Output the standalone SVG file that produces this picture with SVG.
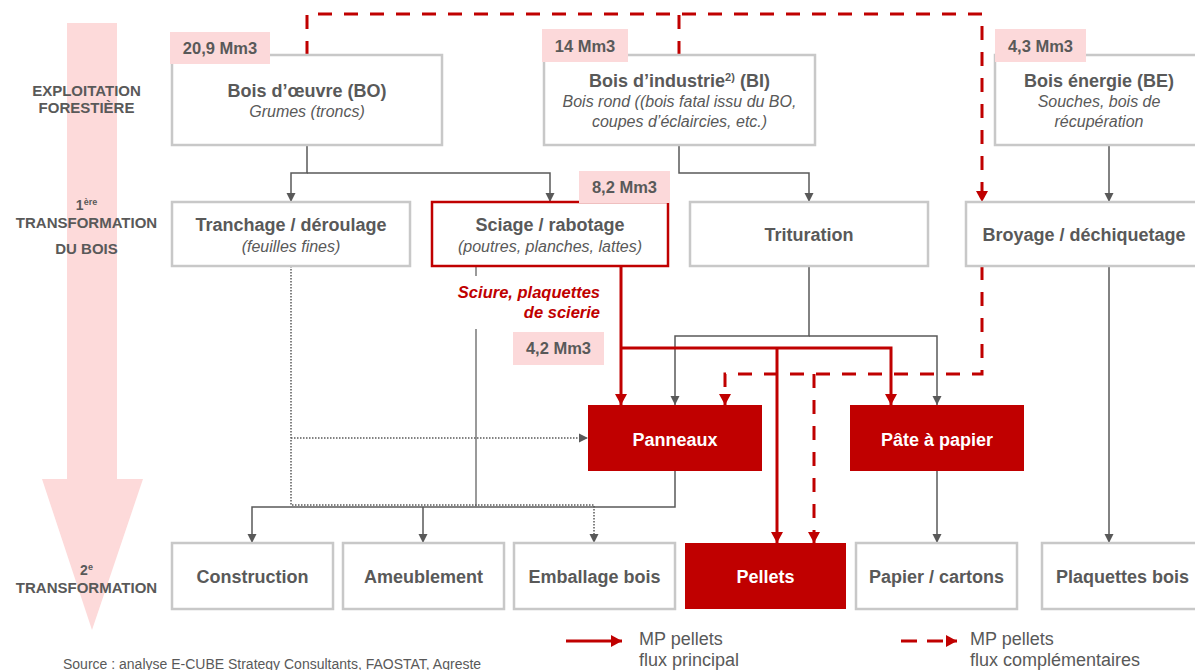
<svg xmlns="http://www.w3.org/2000/svg" width="1195" height="670" viewBox="0 0 1195 670">
<style>
text{font-family:"Liberation Sans",Arial,sans-serif;fill:#595959}
.t{font-size:18px;font-weight:bold;text-anchor:middle}
.s{font-size:16px;font-style:italic;text-anchor:middle}
.w{fill:#ffffff}
.row{font-size:15px;font-weight:bold;text-anchor:middle}
.lab{font-size:16.5px;font-weight:bold;text-anchor:middle}
.box{fill:#ffffff;stroke:#c8c8c8;stroke-width:2.5}
.red{fill:#c00000}
.pink{fill:#fcd9da}
.g{fill:none;stroke:#595959;stroke-width:1.5}
.gl{fill:none;stroke:#7a7a7a;stroke-width:1.5}
.dot{fill:none;stroke:#595959;stroke-width:1.5;stroke-dasharray:1.5 1.5}
.r{fill:none;stroke:#c00000;stroke-width:3}
.rd{fill:none;stroke:#c00000;stroke-width:3;stroke-dasharray:14 12}
.leg{font-size:18px}
</style>
<defs>
<marker id="ag" markerUnits="userSpaceOnUse" markerWidth="10" markerHeight="10" refX="9" refY="5" orient="auto">
<path d="M0,0.5 L9,5 L0,9.5 z" fill="#595959"/>
</marker>
<marker id="ar" markerUnits="userSpaceOnUse" markerWidth="12" markerHeight="12" refX="11" refY="6" orient="auto">
<path d="M0,0 L11,6 L0,12 z" fill="#c00000"/>
</marker>
</defs>

<g id="big-arrow">
<path d="M67,23 H117 V479 H143 L92,630 L42,479 H67 Z" fill="#fddada"/>
</g>

<g id="row-labels">
<text class="row" x="86.5" y="96">EXPLOITATION</text>
<text class="row" x="86.5" y="113">FORESTIÈRE</text>
<text class="row" x="86.5" y="210"><tspan font-size="14">1</tspan><tspan font-size="9" dy="-5">ère</tspan></text>
<text class="row" x="86.5" y="228">TRANSFORMATION</text>
<text class="row" x="86.5" y="254">DU BOIS</text>
<text class="row" x="86.5" y="575"><tspan font-size="14">2</tspan><tspan font-size="9" dy="-5">e</tspan></text>
<text class="row" x="86.5" y="593">TRANSFORMATION</text>
</g>

<g id="connectors">
<path class="g" d="M307,145 V173 H291 V202" marker-end="url(#ag)"/>
<path class="g" d="M307,173 H550 V202" marker-end="url(#ag)"/>
<path class="g" d="M679,145 V173 H809 V202" marker-end="url(#ag)"/>
<path class="g" d="M1109,145 V202" marker-end="url(#ag)"/>
<path class="g" d="M809,266 V336 H675 V405" marker-end="url(#ag)"/>
<path class="g" d="M809,336 H937 V405" marker-end="url(#ag)"/>
<path class="g" d="M1109,266 V543" marker-end="url(#ag)"/>
<path class="g" d="M937,471 V543" marker-end="url(#ag)"/>
<path class="g" d="M675,471 V507 H252 V543" marker-end="url(#ag)"/>
<path class="g" d="M423,507 V543" marker-end="url(#ag)"/>
<path class="gl" d="M476,266 V276 M476,329 V507"/>
<path class="dot" d="M291,266 V505 H594 V543" marker-end="url(#ag)"/>
<path class="dot" d="M291,438 H588" marker-end="url(#ag)"/>
<path class="r" d="M621,266 V405" marker-end="url(#ar)"/>
<path class="r" d="M621,348 H891 V405" marker-end="url(#ar)"/>
<path class="r" d="M777,348 V543" marker-end="url(#ar)"/>
<path class="rd" d="M307,55 V14 H982 V202" marker-end="url(#ar)"/>
<path class="rd" d="M679,55 V14"/>
<path class="rd" d="M982,266 V374 H725 V405" marker-end="url(#ar)"/>
<path class="rd" d="M814,374 V543" marker-end="url(#ar)"/>
</g>

<g id="bois-oeuvre">
<rect class="box" x="172" y="55" width="270" height="90"/>
<text class="t" x="307" y="97">Bois d’œuvre (BO)</text>
<text class="s" x="307" y="117">Grumes (troncs)</text>
<rect class="pink" x="170" y="32" width="100" height="32"/>
<text class="lab" x="220" y="54">20,9 Mm3</text>
</g>

<g id="bois-industrie">
<rect class="box" x="544" y="55" width="271" height="90"/>
<text class="t" x="679.5" y="87">Bois d’industrie<tspan font-size="11" dy="-6">2)</tspan><tspan dy="6"> (BI)</tspan></text>
<text class="s" x="679.5" y="107">Bois rond ((bois fatal issu du BO,</text>
<text class="s" x="679.5" y="127">coupes d’éclaircies, etc.)</text>
<rect class="pink" x="542" y="29" width="86" height="33"/>
<text class="lab" x="585" y="52">14 Mm3</text>
</g>

<g id="bois-energie">
<rect class="box" x="995" y="55" width="210" height="90"/>
<text class="t" x="1099" y="87">Bois énergie (BE)</text>
<text class="s" x="1099" y="107">Souches, bois de</text>
<text class="s" x="1099" y="127">récupération</text>
<rect class="pink" x="995" y="29" width="91" height="33"/>
<text class="lab" x="1040.5" y="52">4,3 Mm3</text>
</g>

<g id="tranchage">
<rect class="box" x="172" y="202" width="238" height="64"/>
<text class="t" x="291" y="231">Tranchage / déroulage</text>
<text class="s" x="291" y="252">(feuilles fines)</text>
</g>

<g id="sciage">
<rect x="432" y="202" width="236" height="64" fill="#ffffff" stroke="#c00000" stroke-width="2.5"/>
<text class="t" x="550" y="231">Sciage / rabotage</text>
<text class="s" x="550" y="252">(poutres, planches, lattes)</text>
<rect class="pink" x="579" y="171" width="91" height="32"/>
<text class="lab" x="624.5" y="193">8,2 Mm3</text>
</g>

<g id="sciure">
<text x="600" y="298" font-size="16.5" font-weight="bold" font-style="italic" text-anchor="end" style="fill:#c00000">Sciure, plaquettes</text>
<text x="600" y="318" font-size="16.5" font-weight="bold" font-style="italic" text-anchor="end" style="fill:#c00000">de scierie</text>
<rect class="pink" x="513" y="332" width="91" height="33"/>
<text class="lab" x="558.5" y="354">4,2 Mm3</text>
</g>

<g id="trituration">
<rect class="box" x="690" y="202" width="238" height="64"/>
<text class="t" x="809" y="241">Trituration</text>
</g>

<g id="broyage">
<rect class="box" x="966" y="202" width="240" height="64"/>
<text class="t" x="1084" y="241">Broyage / déchiquetage</text>
</g>

<g id="panneaux">
<rect class="red" x="588" y="405" width="174" height="66"/>
<text class="t w" x="675" y="446">Panneaux</text>
</g>

<g id="pate">
<rect class="red" x="850" y="405" width="174" height="66"/>
<text class="t w" x="937" y="446">Pâte à papier</text>
</g>

<g id="construction">
<rect class="box" x="172" y="543" width="161" height="66"/>
<text class="t" x="252.5" y="583">Construction</text>
</g>
<g id="ameublement">
<rect class="box" x="343" y="543" width="161" height="66"/>
<text class="t" x="423.5" y="583">Ameublement</text>
</g>
<g id="emballage">
<rect class="box" x="514" y="543" width="161" height="66"/>
<text class="t" x="594.5" y="583">Emballage bois</text>
</g>
<g id="pellets">
<rect class="red" x="685" y="543" width="161" height="66"/>
<text class="t w" x="765.5" y="583">Pellets</text>
</g>
<g id="papier">
<rect class="box" x="856" y="543" width="161" height="66"/>
<text class="t" x="936.5" y="583">Papier / cartons</text>
</g>
<g id="plaquettes">
<rect class="box" x="1042" y="543" width="161" height="66"/>
<text class="t" x="1122.5" y="583">Plaquettes bois</text>
</g>

<g id="legend">
<path class="r" d="M566,641 H622" marker-end="url(#ar)"/>
<text class="leg" x="639" y="645">MP pellets</text>
<text class="leg" x="639" y="666">flux principal</text>
<path d="M901,641 H957" fill="none" stroke="#c00000" stroke-width="3" stroke-dasharray="16 10" marker-end="url(#ar)"/>
<text class="leg" x="970" y="645">MP pellets</text>
<text class="leg" x="970" y="666">flux complémentaires</text>
</g>

<g id="source">
<text x="63" y="669" font-size="14">Source : analyse E-CUBE Strategy Consultants, FAOSTAT, Agreste</text>
</g>
</svg>
